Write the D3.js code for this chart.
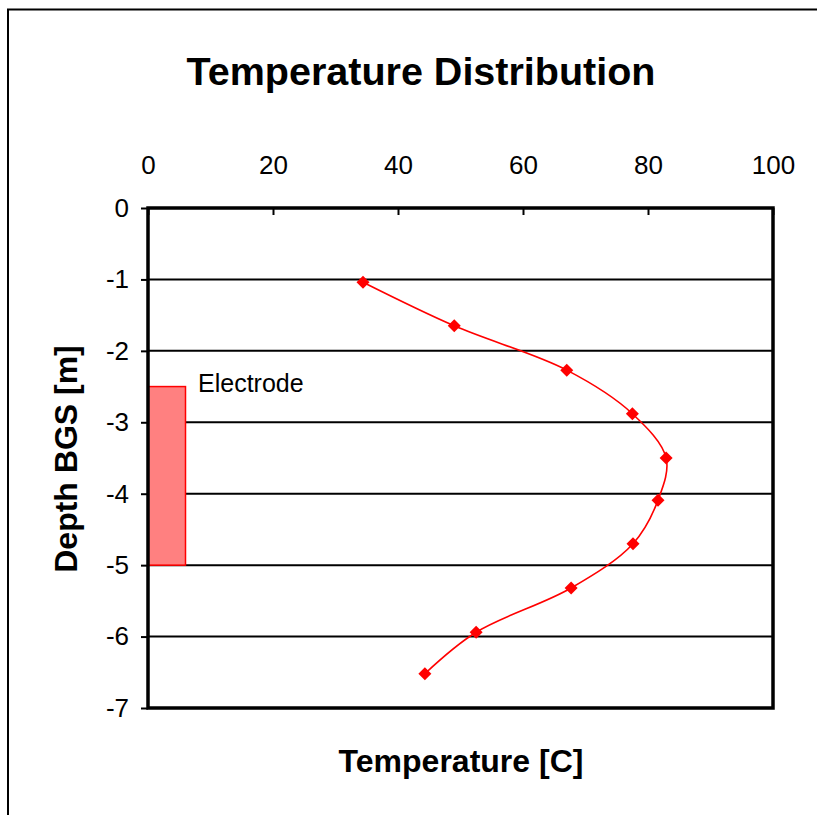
<!DOCTYPE html>
<html><head><meta charset="utf-8">
<script src="https://cdn.jsdelivr.net/npm/d3@7"></script>
<style>body{margin:0;background:#fff;} svg{display:block;}</style>
</head><body>
<svg id="chart" width="817" height="815"></svg>
<script>
const temperature = [34.4, 49.0, 67.0, 77.5, 82.9, 81.6, 77.6, 67.7, 52.5, 44.3];
const depth = [-1.04, -1.65, -2.27, -2.88, -3.50, -4.09, -4.70, -5.32, -5.94, -6.52];
const electrode = {x0: 0, x1: 6, yTop: -2.5, yBottom: -5, label: "Electrode"};
const xTicks = [0, 20, 40, 60, 80, 100];
const yTicks = [0, -1, -2, -3, -4, -5, -6, -7];

const svg = d3.select("#chart");
const font = "'Liberation Sans', Arial, sans-serif";
const L = 148, R = 773, T = 208, B = 708;
const x = d3.scaleLinear().domain([0, 100]).range([L, R]);
const y = d3.scaleLinear().domain([0, -7]).range([T, B]);

// outer chart border (left and top visible)
svg.append("path").attr("d", "M8,815 L8,9.5 L817,9.5").attr("fill", "none").attr("stroke", "#000").attr("stroke-width", 2);

// title
svg.append("text").attr("x", 421).attr("y", 85).attr("text-anchor", "middle")
  .attr("font-family", font).attr("font-weight", "bold").attr("font-size", 39.5)
  .text("Temperature Distribution");

// gridlines
svg.append("g").selectAll("line").data(yTicks.filter(d => d !== 0 && d !== -7)).join("line")
  .attr("x1", L).attr("x2", R).attr("y1", d => y(d)).attr("y2", d => y(d))
  .attr("stroke", "#000").attr("stroke-width", 2);

// electrode
svg.append("rect").attr("x", x(electrode.x0)).attr("y", y(electrode.yTop))
  .attr("width", x(electrode.x1) - x(electrode.x0)).attr("height", y(electrode.yBottom) - y(electrode.yTop))
  .attr("fill", "#ff8080").attr("stroke", "#ff0000").attr("stroke-width", 1.5);
svg.append("text").attr("x", 198).attr("y", 392).attr("font-family", font).attr("font-size", 25)
  .text(electrode.label);

// top axis
const xAxis = d3.axisTop(x).tickValues(xTicks).tickSize(-7).tickPadding(34).tickFormat(d3.format("d"));
const gx = svg.append("g").attr("transform", `translate(0,${T})`).call(xAxis);
gx.select(".domain").remove();
gx.selectAll(".tick line").attr("stroke", "#000").attr("stroke-width", 2);
gx.selectAll(".tick text").attr("font-family", font).attr("font-size", 26).attr("fill", "#000");

// left axis
const yAxis = d3.axisLeft(y).tickValues(yTicks).tickSize(7).tickPadding(12).tickFormat(d => d3.format("d")(d).replace("−", "-"));
const gy = svg.append("g").attr("transform", `translate(${L},0)`).call(yAxis);
gy.select(".domain").remove();
gy.selectAll(".tick line").attr("stroke", "#000").attr("stroke-width", 2);
gy.selectAll(".tick text").attr("font-family", font).attr("font-size", 26).attr("fill", "#000");

// plot frame
svg.append("rect").attr("x", L).attr("y", T).attr("width", R - L).attr("height", B - T)
  .attr("fill", "none").attr("stroke", "#000").attr("stroke-width", 3.5);

// series
const pts = temperature.map((t, i) => [t, depth[i]]);
const line = d3.line().x(d => x(d[0])).y(d => y(d[1])).curve(d3.curveCatmullRom.alpha(0.5));
svg.append("path").datum(pts).attr("d", line).attr("fill", "none").attr("stroke", "#ff0000").attr("stroke-width", 1.6);
svg.append("g").selectAll("path").data(pts).join("path")
  .attr("transform", d => `translate(${x(d[0])},${y(d[1])})`)
  .attr("d", "M0,-6.5 L6.5,0 L0,6.5 L-6.5,0 Z").attr("fill", "#ff0000");

// axis titles
svg.append("text").attr("x", 461).attr("y", 772).attr("text-anchor", "middle")
  .attr("font-family", font).attr("font-weight", "bold").attr("font-size", 32)
  .text("Temperature [C]");
svg.append("text").attr("transform", "translate(77,459) rotate(-90)").attr("text-anchor", "middle")
  .attr("font-family", font).attr("font-weight", "bold").attr("font-size", 32)
  .text("Depth BGS [m]");
</script>
</body></html>
